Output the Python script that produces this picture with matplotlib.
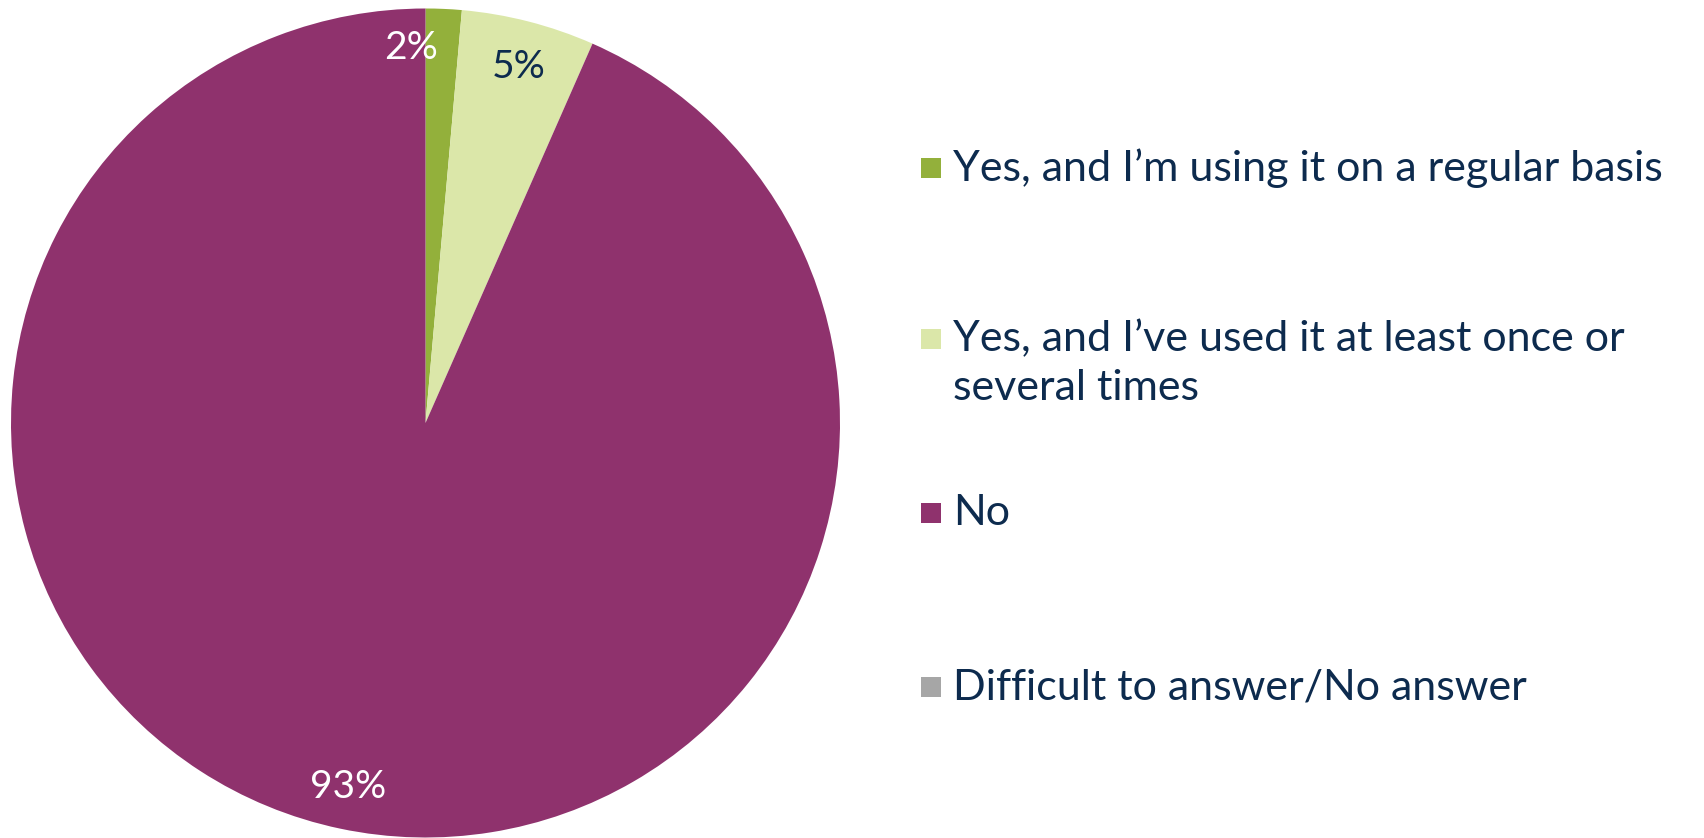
import matplotlib
matplotlib.use("Agg")
import matplotlib.pyplot as plt
from matplotlib.patches import Rectangle

categories = [
    "Yes, and I\u2019m using it on a regular basis",
    "Yes, and I\u2019ve used it at least once or\nseveral times",
    "No",
    "Difficult to answer/No answer",
]
values = [1.4, 5.2, 93.4, 0.0]
pct_labels = ["2%", "5%", "93%", ""]
colors = ["#93b03b", "#dbe7a9", "#8f326d", "#a6a6a6"]
label_colors = ["white", "#0d2b4e", "white", "#0d2b4e"]

W, H = 1704, 838
fig = plt.figure(figsize=(W / 100, H / 100), dpi=100)
fig.patch.set_facecolor("white")

cx, cy, r = 425.5, 423.0, 414.5
ax = fig.add_axes([(cx - r) / W, (H - cy - r) / H, 2 * r / W, 2 * r / H])
ax.pie(values, colors=colors, startangle=90, counterclock=False, radius=1.0,
       wedgeprops=dict(linewidth=0))
ax.set_xlim(-1, 1)
ax.set_ylim(-1, 1)
ax.set_aspect("equal")
ax.axis("off")

font = ["Lato", "DejaVu Sans"]
label_pos = [(-0.035, 0.905), (0.226, 0.859), (-0.187, -0.878)]
for (x, y), lab, c in zip(label_pos, pct_labels, label_colors):
    ax.text(x, y, lab, ha="center", va="center", fontsize=28, color=c, family=font)

# legend
row_y = [168, 339, 513, 687]
sq = 20
for yc, lab, col in zip(row_y, categories, colors):
    fig.patches.append(Rectangle((921 / W, (H - yc - sq / 2) / H), sq / W, sq / H,
                                 transform=fig.transFigure, facecolor=col, edgecolor="none"))
    for i, ln in enumerate(lab.split("\n")):
        fig.text(953 / W, (H - yc - 49 * i) / H, ln, ha="left", va="center",
                 fontsize=31, color="#0d2b4e", family=font)

fig.savefig("out.png", dpi=100)
